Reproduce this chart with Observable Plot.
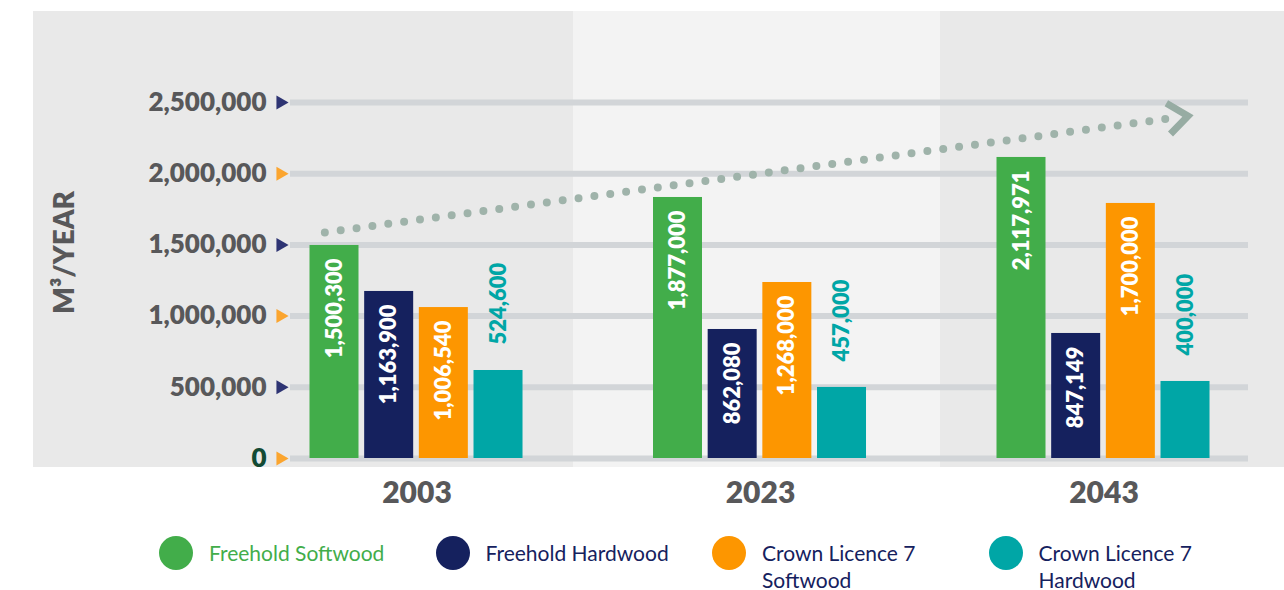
<!DOCTYPE html>
<html><head><meta charset="utf-8">
<script src="https://cdn.jsdelivr.net/npm/d3@7"></script>
<script src="https://cdn.jsdelivr.net/npm/@observablehq/plot@0.6"></script>
<style>
html,body{margin:0;padding:0;background:#fff;}
#wrap{position:relative;width:1284px;height:590px;font-family:Lato,"Noto Sans",sans-serif;}
#panel{position:absolute;left:33px;top:11px;width:1251px;height:456px;background:linear-gradient(to right,#e9e9e9 0,#e9e9e9 540px,#f3f3f3 540px,#f3f3f3 907px,#e9e9e9 907px);}
#chart{position:absolute;left:0;top:0;}
#legend{position:absolute;left:159px;top:536px;display:flex;}
.item{width:276.5px;display:flex;align-items:flex-start;}
.sw{width:34px;height:34px;border-radius:50%;flex:none;}
.lbl{margin-left:16px;font-size:21px;line-height:27px;padding-top:3px;}
.lbl div{white-space:nowrap;}
</style></head><body>
<div id="wrap"><div id="panel"></div><div id="chart"></div><div id="legend"></div></div>
<script>
// ---- data ----
const years = ["2003", "2023", "2043"];
const series = ["Freehold Softwood", "Freehold Hardwood", "Crown Licence 7 Softwood", "Crown Licence 7 Hardwood"];
const legendLines = [["Freehold Softwood"], ["Freehold Hardwood"], ["Crown Licence 7", "Softwood"], ["Crown Licence 7", "Hardwood"]];
// bar heights as drawn in the picture (m³/year)
const freeholdSoftwood = [1496000, 1833000, 2114000];
const freeholdHardwood = [1173000, 906000, 878000];
const crownSoftwood = [1060000, 1236000, 1791000];
const crownHardwood = [618000, 499000, 541000];
// printed value labels
const freeholdSoftwoodLabels = ["1,500,300", "1,877,000", "2,117,971"];
const freeholdHardwoodLabels = ["1,163,900", "862,080", "847,149"];
const crownSoftwoodLabels = ["1,006,540", "1,268,000", "1,700,000"];
const crownHardwoodLabels = ["524,600", "457,000", "400,000"];
const yTicks = [0, 500000, 1000000, 1500000, 2000000, 2500000];
const yTickLabels = ["0", "500,000", "1,000,000", "1,500,000", "2,000,000", "2,500,000"];
const yTitle = "M³/YEAR";
// trend arrow (from 2003 to 2043)
const trendYears = ["2003", "2043"];
const trendValues = [1675000, 2326000];

// ---- styles ----
const colors = ["#42ad4a", "#15215e", "#fd9600", "#00a6a6"];
const STEP = 343.5, GROUP = 220, SLOT = 54.67, BAR = 49, BAR0 = 3;
const padIn = 1 - GROUP / STEP;

const valueSets = [freeholdSoftwood, freeholdHardwood, crownSoftwood, crownHardwood];
const labelSets = [freeholdSoftwoodLabels, freeholdHardwoodLabels, crownSoftwoodLabels, crownHardwoodLabels];
const rows = [];
series.forEach((s, si) => years.forEach((y, yi) => rows.push({year: y, series: s, si, value: valueSets[si][yi], label: labelSets[si][yi]})));
const trend = [{x1: trendYears[0], y1: trendValues[0], x2: trendYears[1], y2: trendValues[1]}];

const chevron = {draw(ctx, size) {
  const r = Math.sqrt(size / Math.PI);
  ctx.moveTo(-r * 0.79, -r * 0.62); ctx.lineTo(0, 0); ctx.lineTo(-r * 0.79, r * 0.62);
}};

const marks = [
  Plot.ruleY(yTicks, {stroke: "#d2d5d8", strokeWidth: 6}),
  Plot.text(yTicks, {frameAnchor: "left", y: d => d, text: (d, i) => yTickLabels[i], textAnchor: "end", dx: -24,
    fontSize: 26, fontWeight: 800, fill: d => d === 0 ? "#124a33" : "#58585a"}),
  Plot.dot(yTicks, {frameAnchor: "left", y: d => d, dx: -10, symbol: "triangle", r: 5.2, rotate: 90,
    fill: (d, i) => i % 2 === 0 ? "#fba52f" : "#2e3473"}),
  Plot.text([yTitle], {frameAnchor: "left", text: d => d, textAnchor: "middle", rotate: -90, dx: -225, dy: -28,
    fontSize: 28, fontWeight: 800, fill: "#58585a"})
];
series.forEach((s, si) => {
  const data = rows.filter(d => d.si === si);
  const left = BAR0 + si * SLOT;
  marks.push(Plot.barY(data, {x: "year", y: "value", fill: colors[si], insetLeft: left, insetRight: GROUP - left - BAR}));
});
series.forEach((s, si) => {
  const data = rows.filter(d => d.si === si);
  const off = BAR0 + si * SLOT + BAR / 2 - GROUP / 2;
  const inside = si < 3;
  marks.push(Plot.text(data, {x: "year", y: "value", text: "label", rotate: -90,
    textAnchor: inside ? "end" : "start", dx: off, dy: inside ? 13 : -26,
    fill: inside ? "#ffffff" : colors[si], fontSize: 22, fontWeight: 800}));
});
marks.push(Plot.arrow(trend, {x1: "x1", y1: "y1", x2: "x2", y2: "y2", stroke: "#9fb3aa", strokeWidth: 8,
  strokeDasharray: "0 16", strokeLinecap: "round", headLength: 0, insetStart: -93, insetEnd: -66}));
marks.push(Plot.dot(trend, {x: "x2", y: "y2", symbol: chevron, r: 25, dx: 84, dy: -11.3, rotate: -7.7,
  fill: "none", stroke: "#97aca3", strokeWidth: 7, strokeLinejoin: "miter"}));
marks.push(Plot.axisX({tickSize: 0, tickPadding: 23, fontSize: 30, fontWeight: 800, color: "#58585a", label: null}));

const plot = Plot.plot({
  width: 1284, height: 520,
  marginLeft: 290, marginRight: 36, marginTop: 102, marginBottom: 62,
  style: {background: "transparent", fontFamily: "Lato, 'Noto Sans', sans-serif"},
  x: {domain: years, range: [416.5 - STEP / 2, 1103.5 + STEP / 2], paddingInner: padIn, paddingOuter: padIn / 2, round: false},
  y: {domain: [0, 2500000], axis: null},
  color: {type: "identity"},
  marks
});
document.getElementById("chart").appendChild(plot);

// legend
const legend = document.getElementById("legend");
series.forEach((s, i) => {
  const item = document.createElement("div"); item.className = "item";
  const sw = document.createElement("div"); sw.className = "sw"; sw.style.background = colors[i];
  const lb = document.createElement("div"); lb.className = "lbl";
  lb.style.color = i === 0 ? colors[0] : colors[1];
  legendLines[i].forEach(t => { const ln = document.createElement("div"); ln.textContent = t; lb.appendChild(ln); });
  item.appendChild(sw); item.appendChild(lb); legend.appendChild(item);
});
</script>
</body></html>
